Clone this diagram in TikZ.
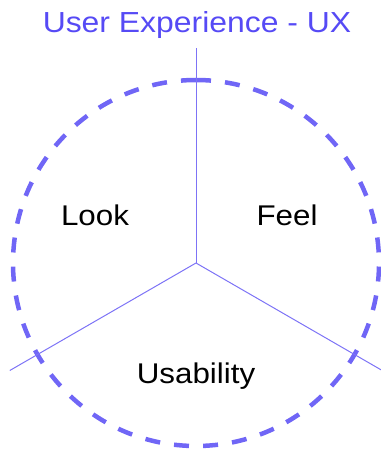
\documentclass[tikz,border=0pt]{standalone}
\usepackage{fontspec}
\usetikzlibrary{calc}
\setmainfont{Liberation Sans}[FakeStretch=1.1]
\definecolor{uxtitle}{RGB}{86,74,245}
\definecolor{uxdash}{RGB}{112,102,246}
\definecolor{uxline}{RGB}{125,115,246}
\begin{document}
\begin{tikzpicture}[x=1pt,y=-1pt,
  ringstyle/.style={draw=uxdash,line width=4.5pt,dash pattern=on 15pt off 14.1pt},
  spoke/.style={draw=uxline,line width=1pt},
  lbl/.style={anchor=base,inner sep=0pt,font=\fontsize{28.5}{30}\selectfont,text=black},
  ttl/.style={anchor=base,inner sep=0pt,font=\fontsize{29}{31}\selectfont,text=uxtitle}]
\useasboundingbox (0,0) rectangle (380,449);
\coordinate (c) at (196,263);
\coordinate (top) at (196,80);
\coordinate (up) at (196,48);
\coordinate (left) at ($(c)+(-186.2,107.5)$);
\coordinate (right) at ($(c)+(186.2,107.5)$);
\draw[ringstyle] (top) arc[start angle=-90,end angle=270,radius=183];
\draw[spoke] (c) -- (up);
\draw[spoke] (c) -- (left);
\draw[spoke] (c) -- (right);
\node[ttl] (title) at (197,33) {User Experience - UX};
\node[lbl] (look) at (95,225) {Look};
\node[lbl] (feel) at (287,225) {Feel};
\node[lbl] (usab) at (196,383) {Usability};
\end{tikzpicture}
\end{document}
